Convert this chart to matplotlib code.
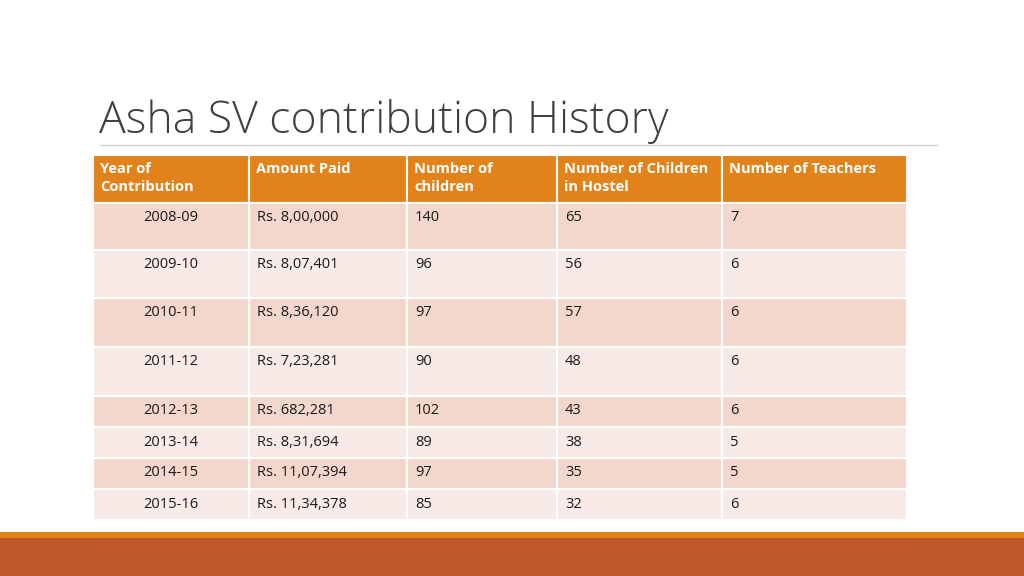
import matplotlib.pyplot as plt
from matplotlib.patches import Rectangle

# table data
headers = ['Year of\nContribution', 'Amount Paid', 'Number of\nchildren',
           'Number of Children\nin Hostel', 'Number of Teachers']
years = ['2008-09', '2009-10', '2010-11', '2011-12', '2012-13', '2013-14', '2014-15', '2015-16']
amounts = ['Rs. 8,00,000', 'Rs. 8,07,401', 'Rs. 8,36,120', 'Rs. 7,23,281', 'Rs. 682,281',
           'Rs. 8,31,694', 'Rs. 11,07,394', 'Rs. 11,34,378']
children = [140, 96, 97, 90, 102, 89, 97, 85]
hostel = [65, 56, 57, 48, 43, 38, 35, 32]
teachers = [7, 6, 6, 6, 6, 5, 5, 6]

# layout in pixels
col_x = [93, 249, 407, 557, 722, 907]
row_y = [155, 203, 250, 298, 347, 396, 427, 458, 489, 520]

orange = '#E2821B'
dark_row = '#F3D7CC'
light_row = '#F8EAE6'

fig = plt.figure(figsize=(10.24, 5.76), dpi=100)
ax = fig.add_axes([0, 0, 1, 1])
ax.set_xlim(0, 1024)
ax.set_ylim(576, 0)
ax.axis('off')

# title
ax.text(99, 133, 'Asha SV contribution History', fontsize=32, color='#404040',
        family='Open Sans', fontweight='light', va='baseline', ha='left')
ax.plot([100, 937], [145, 145], color='#d4d4d4', lw=1)

# header
for j, h in enumerate(headers):
    x0, x1 = col_x[j], col_x[j + 1]
    ax.add_patch(Rectangle((x0, row_y[0]), x1 - x0, row_y[1] - row_y[0],
                           facecolor=orange, edgecolor='white', lw=1.5))
    ax.text(x0 + 7, row_y[0] + 7, h, color='white', fontsize=10.5, fontweight='bold',
            family='Open Sans', va='top', ha='left', linespacing=1.35)

# body
rows = list(zip(years, amounts, children, hostel, teachers))
for i, r in enumerate(rows):
    y0, y1 = row_y[i + 1], row_y[i + 2]
    fc = dark_row if i % 2 == 0 else light_row
    for j, val in enumerate(r):
        x0, x1 = col_x[j], col_x[j + 1]
        ax.add_patch(Rectangle((x0, y0), x1 - x0, y1 - y0,
                               facecolor=fc, edgecolor='white', lw=1.5))
        ty = y0 + 7 if i < 4 else (y0 + y1) / 2 - 8
        if j == 0:
            ax.text((x0 + x1) / 2, ty, str(val), fontsize=10.5, color='#1a1a1a',
                    family='Open Sans', va='top', ha='center')
        else:
            ax.text(x0 + 8, ty, str(val), fontsize=10.5, color='#1a1a1a',
                    family='Open Sans', va='top', ha='left')

# bottom bar
ax.add_patch(Rectangle((0, 532), 1024, 6, facecolor=orange, edgecolor='none'))
ax.add_patch(Rectangle((0, 538), 1024, 38, facecolor='#BC582C', edgecolor='none'))

fig.savefig('out.png', dpi=100)
